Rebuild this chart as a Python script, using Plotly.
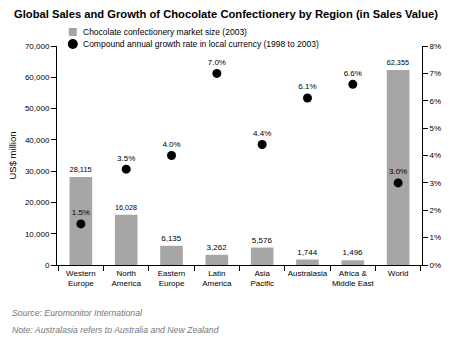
import plotly.graph_objects as go

categories = ["Western<br>Europe", "North<br>America", "Eastern<br>Europe", "Latin<br>America",
              "Asia<br>Pacific", "Australasia", "Africa &<br>Middle East", "World"]
market_size = [28115, 16028, 6135, 3262, 5576, 1744, 1496, 62355]
growth_rate = [1.5, 3.5, 4.0, 7.0, 4.4, 6.1, 6.6, 3.0]
legend_labels = ["Chocolate confectionery market size (2003)",
                 "Compound annual growth rate in local currency (1998 to 2003)"]

FONT = "Liberation Sans, Arial, sans-serif"
BAR_COLOR = "#a6a6a6"
DOT_COLOR = "#000"
PLOT_H = 340 - 46 - 75
PLOT_W = 453 - 56 - 27

def px_x(x):
    return (x - 56) / PLOT_W

def px_y(y):
    return (265 - y) / PLOT_H

fig = go.Figure()
fig.add_trace(go.Bar(
    x=categories, y=market_size, name=legend_labels[0],
    marker=dict(color=BAR_COLOR, line=dict(width=0)), width=0.5,
    text=[f"{v:,}" for v in market_size], textposition="outside",
    textfont=dict(size=8, color="#000"), cliponaxis=False, showlegend=False,
))
fig.add_trace(go.Scatter(
    x=categories, y=growth_rate, yaxis="y2", mode="markers+text",
    name=legend_labels[1],
    marker=dict(color=DOT_COLOR, size=9),
    text=[f"{v:.1f}%" for v in growth_rate], textposition="top center",
    textfont=dict(size=8, color="#000"), cliponaxis=False, showlegend=False,
))

# legend keys drawn as pixel-sized shapes
shapes = [
    dict(type="rect", xref="paper", yref="paper", xsizemode="pixel", ysizemode="pixel",
         xanchor=px_x(72), yanchor=px_y(32), x0=-4, x1=4, y0=-4, y1=4,
         fillcolor=BAR_COLOR, line=dict(width=0)),
    dict(type="circle", xref="paper", yref="paper", xsizemode="pixel", ysizemode="pixel",
         xanchor=px_x(72), yanchor=px_y(44), x0=-5, x1=5, y0=-5, y1=5,
         fillcolor=DOT_COLOR, line=dict(width=0)),
]

annotations = [
    dict(text="<i>Source: Euromonitor International</i>", xref="paper", yref="paper",
         x=px_x(8), y=px_y(313), xanchor="left", yanchor="middle", showarrow=False,
         font=dict(size=8.7, color="#777")),
    dict(text="<i>Note: Australasia refers to Australia and New Zealand</i>", xref="paper", yref="paper",
         x=px_x(8), y=px_y(330), xanchor="left", yanchor="middle", showarrow=False,
         font=dict(size=8.7, color="#777")),
    dict(text=legend_labels[0], xref="paper", yref="paper", x=px_x(80), y=px_y(32), xanchor="left",
         yanchor="middle", showarrow=False, font=dict(size=8.5, color="#000")),
    dict(text=legend_labels[1], xref="paper", yref="paper", x=px_x(80), y=px_y(44), xanchor="left",
         yanchor="middle", showarrow=False, font=dict(size=8.5, color="#000")),
]

fig.update_layout(
    width=453, height=340, margin=dict(l=56, r=27, t=46, b=75),
    paper_bgcolor="white", plot_bgcolor="white",
    font=dict(family=FONT, size=8, color="#000"),
    title=dict(text="<b>Global Sales and Growth of Chocolate Confectionery by Region (in Sales Value)</b>",
               x=226 / 453, xref="container", xanchor="center", y=1 - 14 / 340, yref="container",
               yanchor="middle", font=dict(size=11.2, family=FONT, color="#000")),
    showlegend=False,
    bargap=0.5,
    xaxis=dict(showline=True, linecolor="#000", linewidth=1, ticks="outside", tickson="boundaries",
               ticklen=5, tickcolor="#000", showgrid=False, tickangle=0, tickfont=dict(size=8)),
    yaxis=dict(range=[0, 70000], dtick=10000, tickformat=",", showline=True, linecolor="#000",
               ticks="outside", ticklen=5, tickcolor="#000", showgrid=False, zeroline=False,
               title=dict(text="US$ million", font=dict(size=9.5), standoff=6), tickfont=dict(size=8)),
    yaxis2=dict(range=[0, 8], dtick=1, ticksuffix="%", overlaying="y", side="right",
                showline=True, linecolor="#000", ticks="outside", ticklen=5, tickcolor="#000",
                showgrid=False, zeroline=False, tickfont=dict(size=8)),
    shapes=shapes,
    annotations=annotations,
)

fig.write_html("out.html")
